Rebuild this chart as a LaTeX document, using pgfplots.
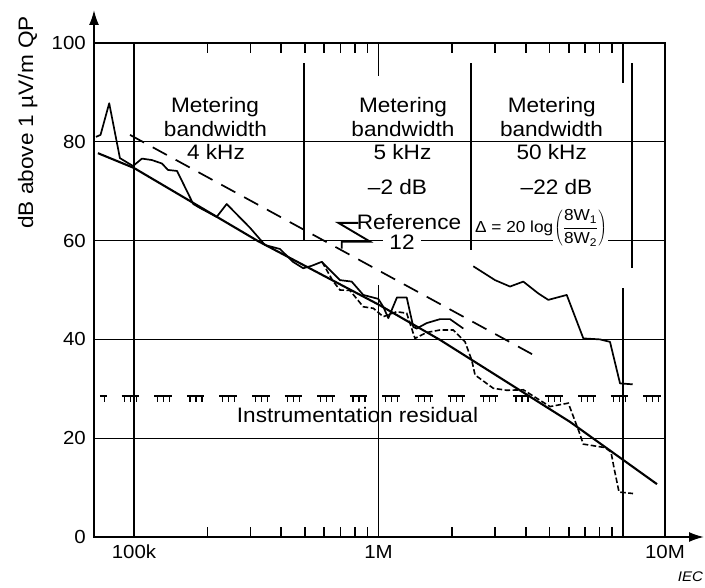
\documentclass[border=0pt]{standalone}
\usepackage{fontspec}
\setmainfont{Liberation Sans}[FakeStretch=1.08]
\usepackage{pgfplots}
\usepackage{pgfplotstable}
\pgfplotsset{compat=1.18}
\usetikzlibrary{arrows.meta}

% frequency in kHz, level in dB
\pgfplotstableread{
f dB
71.2 77.7
100 74.7
321.5 59.9
1004.7 47.0
1785 39.9
6072 23.3
13770 10.7
}\trend

\pgfplotstableread{
f dB
96.3 81.4
4436 36.5
}\refline

\pgfplotstableread{
f dB
69.9 81.0
73.0 81.4
79.2 87.8
87.6 76.7
99.1 75.1
107.8 76.6
118.5 76.3
130.2 75.6
137.7 74.3
150.0 74.1
174.8 67.4
186.2 66.6
217.9 64.8
239.4 67.4
298.2 62.6
343.5 59.1
395.5 58.3
447.0 55.7
492.3 54.4
533.1 54.9
585.9 55.7
696.0 52.0
777.0 51.7
866.7 49.0
998.1 48.2
1046 46.6
1097 44.3
1190 48.5
1304 48.5
1388 42.5
1433 42.2
1574 43.3
1785 44.1
1961 44.1
2223 42.2
}\meas

\pgfplotstableread{
f dB
587.6 55.7
651.5 51.8
696.0 50.0
764.6 49.9
866.7 46.6
952.2 46.3
1046 44.6
1187 45.6
1304 45.3
1388 41.2
1410 40.2
1574 41.4
1785 41.9
2023 41.9
2259 39.5
2406 35.8
2482 32.8
2948 30.1
3345 29.7
3911 29.8
5028 26.4
5975 27.1
6566 21.7
6882 18.8
8440 18.1
8930 17.2
9186 14.0
9630 9.1
10987 8.8
}\measdash

\pgfplotstableread{
f dB
2442 54.8
2996 52.0
3450 50.7
3911 51.7
4505 49.3
4948 48.0
5886 49.0
6882 40.2
8052 40.0
8846 39.5
9721 31.1
10956 30.9
}\upper

\pgfplotstableread{
f dB
826.7 63.6
684.9 63.6
923.1 59.8
707.2 59.8
707.2 58.4
}\refmark

\begin{document}
\begin{tikzpicture}
\begin{axis}[
  at={(94bp,51bp)}, anchor=south west,
  scale only axis, width=571bp, height=494bp,
  xmode=log, xmin=68.64, xmax=14850, ymin=0, ymax=100,
  xtick={100,1000,14849}, xticklabels={100k,1M,10M},
  minor tick num=0,
  ytick={0,20,40,60,80,100},
  yticklabels={0,20,40,60,80,\raisebox{-5bp}{100}},
  ymajorgrids, major grid style={black, line width=1.3bp},
  major tick length=0pt, tick align=inside,
  tick style={black, line width=1.3bp},
  axis line style={black, line width=1.8bp},
  ticklabel style={font=\fontsize{19}{19}\selectfont},
  yticklabel style={xshift=-4.7bp},
  xticklabel style={yshift=-4.7bp},
  unbounded coords=jump,
]
% vertical grid / separators
\draw[line width=1.3bp] (100,0) -- (100,100);
\draw[line width=1.3bp] (1000,0) -- (1000,51.0);
\draw[line width=1.3bp] (1000,100) -- (1000,93.3);
\draw[line width=1.3bp] (10000,0) -- (10000,50.4);
\draw[line width=1.3bp] (10000,100) -- (10000,91.9);
\draw[line width=1.4bp] (495.8,95.95) -- (495.8,60);
\draw[line width=1.4bp] (2390,95.95) -- (2390,58.1);
\draw[line width=1.4bp] (10885,95.95) -- (10885,54.5);

% inward log minor ticks on bottom and top edges
\addplot[black, line width=1.6bp] coordinates {
 (200,0) (200,2.1) (200,nan) (300,0) (300,2.1) (300,nan) (400,0) (400,2.1) (400,nan)
 (500,0) (500,2.1) (500,nan) (600,0) (600,2.1) (600,nan) (700,0) (700,2.1) (700,nan)
 (800,0) (800,2.1) (800,nan) (900,0) (900,2.1) (900,nan)
 (2000,0) (2000,2.1) (2000,nan) (3000,0) (3000,2.1) (3000,nan) (4000,0) (4000,2.1) (4000,nan)
 (5000,0) (5000,2.1) (5000,nan) (6000,0) (6000,2.1) (6000,nan) (7000,0) (7000,2.1) (7000,nan)
 (8000,0) (8000,2.1) (8000,nan) (9000,0) (9000,2.1)};
\addplot[black, line width=1.6bp] coordinates {
 (200,100) (200,98) (200,nan) (300,100) (300,98) (300,nan) (400,100) (400,98) (400,nan)
 (500,100) (500,98) (500,nan) (600,100) (600,98) (600,nan) (700,100) (700,98) (700,nan)
 (800,100) (800,98) (800,nan) (900,100) (900,98) (900,nan)
 (2000,100) (2000,98) (2000,nan) (3000,100) (3000,98) (3000,nan) (4000,100) (4000,98) (4000,nan)
 (5000,100) (5000,98) (5000,nan) (6000,100) (6000,98) (6000,nan) (7000,100) (7000,98) (7000,nan)
 (8000,100) (8000,98) (8000,nan) (9000,100) (9000,98)};

% instrumentation residual
\addplot[black, line width=1.6bp, dash pattern=on 17.5bp off 15.1bp, dash phase=10.9bp] coordinates {(72.6,28.6) (14435,28.6)};
\addplot[black, line width=5.5bp, dash pattern=on 1.3bp off 4.7bp on 1.3bp off 4.7bp on 1.3bp off 19.3bp, dash phase=8.4bp] coordinates {(72.6,27.95) (14435,27.95)};

\addplot[black, line width=2.1bp] table {\trend};
\addplot[black, line width=1.7bp, dash pattern=on 16bp off 10bp] table {\refline};
\addplot[black, line width=1.7bp, line join=round] table {\meas};
\addplot[black, line width=1.6bp, dash pattern=on 5.5bp off 2.5bp] table {\measdash};
\addplot[black, line width=1.7bp, line join=round] table {\upper};
\addplot[black, line width=1.9bp] table {\refmark};
\end{axis}

% axis arrows
\draw[line width=1.8bp, -{Latex[length=15bp,width=10bp]}] (94bp,540bp) -- (94bp,578bp);
\draw[line width=1.8bp, -{Latex[length=15bp,width=10bp]}] (660bp,51bp) -- (704bp,51bp);

% texts
\begin{scope}[every node/.style={font=\fontsize{21}{24}\selectfont, anchor=base, inner sep=1bp}]
\node at (215bp,475.3bp) {Metering};
\node[fill=white, text depth=0.35em] at (215.5bp,451bp) {bandwidth};
\node at (216bp,428bp) {4 kHz};
\node at (403bp,475.3bp) {Metering};
\node[fill=white, text depth=0.35em] at (403bp,451bp) {bandwidth};
\node at (402.5bp,428bp) {5 kHz};
\node at (397.5bp,393bp) {–2 dB};
\node at (551.7bp,475.3bp) {Metering};
\node[fill=white, text depth=0.35em] at (551.5bp,451bp) {bandwidth};
\node at (551.7bp,428bp) {50 kHz};
\node at (556.5bp,393bp) {–22 dB};
\node at (409bp,358bp) {Reference};
\node[fill=white, inner xsep=6bp] at (402bp,338bp) {12};
\node at (357.5bp,165bp) {Instrumentation residual};
\node[rotate=90] at (33bp,465.5bp) {dB above 1 µV/m QP};
\end{scope}
\node[font=\fontsize{16}{18}\selectfont, anchor=west, inner sep=0pt] at (475bp,360bp) {Δ = 20 log};
\node[font=\fontsize{16}{18}\selectfont, anchor=west, inner sep=1bp, fill=white] at (553bp,360bp) {$\displaystyle\left(\frac{\mbox{8W\textsubscript{1}}}{\mbox{8W\textsubscript{2}}}\right)$};
\node[font=\fontsize{14}{14}\itshape, anchor=base] at (690.5bp,6.3bp) {IEC};

\pgfresetboundingbox
\path[use as bounding box] (0,0) rectangle (705bp,588bp);
\end{tikzpicture}
\end{document}
